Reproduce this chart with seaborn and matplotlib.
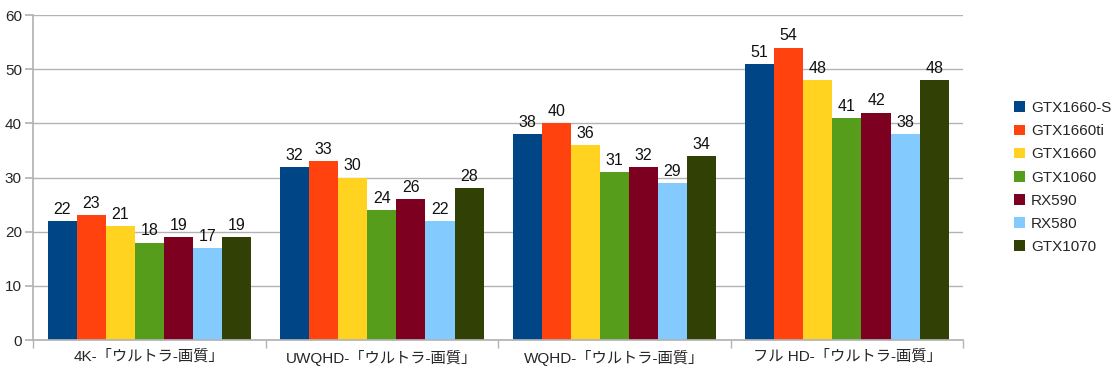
import matplotlib
matplotlib.use("Agg")
import matplotlib.pyplot as plt
import seaborn as sns
import pandas as pd
import numpy as np

categories = ["4K-「ウルトラ-画質」", "UWQHD-「ウルトラ-画質」", "WQHD-「ウルトラ-画質」", "フル HD-「ウルトラ-画質」"]
series = ["GTX1660-S", "GTX1660ti", "GTX1660", "GTX1060", "RX590", "RX580", "GTX1070"]
gtx1660s = [22, 32, 38, 51]
gtx1660ti = [23, 33, 40, 54]
gtx1660 = [21, 30, 36, 48]
gtx1060 = [18, 24, 31, 41]
rx590 = [19, 26, 32, 42]
rx580 = [17, 22, 29, 38]
gtx1070 = [19, 28, 34, 48]
colors = ["#004586", "#ff420e", "#ffd320", "#579d1c", "#7e0021", "#83caff", "#314004"]

values = [gtx1660s, gtx1660ti, gtx1660, gtx1060, rx590, rx580, gtx1070]
rows = []
for s, vals in zip(series, values):
    for c, v in zip(categories, vals):
        rows.append({"cat": c, "series": s, "value": v})
df = pd.DataFrame(rows)

sns.set_theme(style="white")
plt.rcParams['font.family'] = ['Liberation Sans', 'Noto Sans CJK JP', 'DejaVu Sans']

fig = plt.figure(figsize=(11.12, 3.77), dpi=100)
ax = fig.add_axes([0.0297, 0.098, 0.8365, 0.862])

sns.barplot(data=df, x="cat", y="value", hue="series", order=categories,
            hue_order=series, palette=colors, width=0.875, gap=0,
            saturation=1, ax=ax, legend=True, linewidth=0)

for cont in ax.containers:
    ax.bar_label(cont, fmt="%d", padding=3, fontsize=11.5, color="#111111")

ax.set_ylim(0, 60)
ax.set_xlim(-0.5, 3.5)
ax.set_yticks(np.arange(0, 61, 10))
ax.yaxis.grid(True, color="#b3b3b3", linewidth=1)
ax.set_axisbelow(True)
ax.set_xlabel("")
ax.set_ylabel("")
for side in ["top", "right"]:
    ax.spines[side].set_visible(False)
ax.spines["left"].set_color("#b3b3b3")
ax.spines["bottom"].set_color("#b3b3b3")
ax.tick_params(axis="y", length=6, color="#b3b3b3", labelsize=11, pad=2, left=True)
ax.tick_params(axis="x", length=0, labelsize=11, pad=7)
ax.set_xticks(range(4))
ax.set_xticklabels(categories)
ax.set_xticks([-0.5, 0.5, 1.5, 2.5, 3.5], minor=True)
ax.tick_params(axis="x", which="minor", length=6, color="#b3b3b3", bottom=True)

leg = ax.legend(loc="center left", bbox_to_anchor=(1.04, 0.5), frameon=False,
                fontsize=11, handlelength=0.7, handleheight=0.7, handletextpad=0.4,
                labelspacing=0.6)

fig.savefig("out.png", dpi=100)
